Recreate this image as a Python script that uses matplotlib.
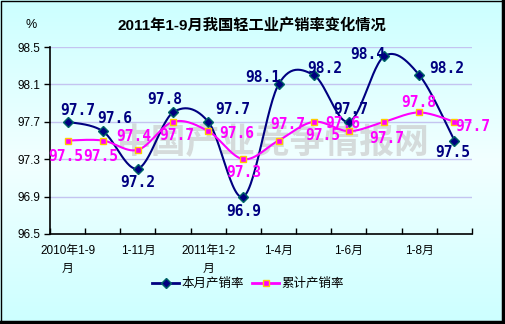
import matplotlib.pyplot as plt
import numpy as np
from matplotlib.colors import LinearSegmentedColormap
from matplotlib.lines import Line2D

plt.rcParams['font.family'] = ['Liberation Sans', 'Noto Sans CJK SC', 'DejaVu Sans']

months = ['2010年1-9\n月', '1-10月', '1-11月', '12月', '2011年1-2\n月', '1-3月',
          '1-4月', '1-5月', '1-6月', '1-7月', '1-8月', '1-9月']
monthly = [97.7, 97.6, 97.2, 97.8, 97.7, 96.9, 98.1, 98.2, 97.7, 98.4, 98.2, 97.5]
cumulative = [97.5, 97.5, 97.4, 97.7, 97.6, 97.3, 97.5, 97.7, 97.6, 97.7, 97.8, 97.7]
yticks = [96.5, 96.9, 97.3, 97.7, 98.1, 98.5]

# label offsets in pixels (dx, dy)
off_monthly = [(10, 11), (12, 13), (0, -14), (-8, 13), (25, 12), (0, -15),
               (-16, 7), (11, 7), (2, 12), (-16, 2), (28, 7), (-2, -12)]
off_cum = [(-2, -16), (-2, -16), (-4, 13), (4, -14), (29, -2), (0, -13),
           (44, 5), (-26, -3), (-6, 8), (3, -17), (0, 10), (18, -5)]


def smooth(y, n=30):
    # bezier smoothing through the points (catmull-rom style)
    y = np.asarray(y, float)
    x = np.arange(len(y), dtype=float)
    p = np.column_stack([x, y])
    pts = []
    t = np.linspace(0, 1, n)[:, None]
    for i in range(len(p) - 1):
        p0 = p[max(i - 1, 0)]
        p3 = p[min(i + 2, len(p) - 1)]
        c1 = p[i] + (p[i + 1] - p0) / 6
        c2 = p[i + 1] - (p3 - p[i]) / 6
        seg = ((1 - t) ** 3) * p[i] + 3 * ((1 - t) ** 2) * t * c1 \
            + 3 * (1 - t) * t ** 2 * c2 + t ** 3 * p[i + 1]
        pts.append(seg)
    pts = np.vstack(pts)
    return pts[:, 0], pts[:, 1]


fig = plt.figure(figsize=(5.05, 3.24), dpi=100)

bg = fig.add_axes([0, 0, 1, 1], zorder=-5)
cmap = LinearSegmentedColormap.from_list('bg', [(0, '#ccffff'), (0.5, '#f2ffff'), (1, '#ccffff')])
bg.imshow(np.linspace(0, 1, 256)[:, None], aspect='auto', cmap=cmap, extent=[0, 1, 0, 1])
bg.axis('off')
bg.set_xlim(0, 1)
bg.set_ylim(0, 1)
# frame
bg.plot([0.001, 0.001, 0.996, 0.996, 0.001], [0.004, 0.998, 0.998, 0.004, 0.004],
        color='black', lw=1, clip_on=False)
bg.plot([0.996, 0.996], [0.998, 0.0], color='black', lw=2.5, clip_on=False)
bg.plot([0.0, 0.996], [0.005, 0.005], color='black', lw=2.5, clip_on=False)

ax = fig.add_axes([50 / 505, 90 / 324, 422 / 505, 187 / 324])
ax.set_facecolor('none')

x = np.arange(len(months))

ax.text(0.53, 0.49, '中国产业竞争情报网', transform=ax.transAxes, ha='center', va='center',
        fontsize=25, fontweight='bold', color='#c8c8c8', alpha=0.65,
        family=['Noto Sans CJK SC'], zorder=1)

sx, sy = smooth(monthly)
ax.plot(sx, sy, color='#000080', lw=1.5, zorder=3)
ax.plot(x, monthly, ls='none', marker='D', ms=5, mfc='#000080', mec='#006666', zorder=4)
sx, sy = smooth(cumulative)
ax.plot(sx, sy, color='#ff00ff', lw=1.5, zorder=3)
ax.plot(x, cumulative, ls='none', marker='s', ms=4.5, mfc='#ff00ff', mec='#ffcc00', mew=1, zorder=4)

for i, v in enumerate(monthly):
    dx, dy = off_monthly[i]
    ax.annotate(f'{v:.1f}', (i, v), xytext=(dx * 0.72, dy * 0.72), textcoords='offset points',
                ha='center', va='center', fontsize=10.5, fontweight='bold', color='#000080',
                family='DejaVu Sans Mono', zorder=5)
for i, v in enumerate(cumulative):
    dx, dy = off_cum[i]
    ax.annotate(f'{v:.1f}', (i, v), xytext=(dx * 0.72, dy * 0.72), textcoords='offset points',
                ha='center', va='center', fontsize=10.5, fontweight='bold', color='#ff00ff',
                family='DejaVu Sans Mono', zorder=5)

ax.set_xlim(-0.5, len(months) - 0.5)
ax.set_ylim(96.5, 98.5)
ax.set_yticks(yticks)
ax.set_yticklabels([f'{t:.1f}' for t in yticks], fontsize=8.5)
for t in yticks[1:]:
    ax.axhline(t, color='#c4c4f0', lw=1, zorder=0)

ax.set_xticks(x)
ax.set_xticklabels([m if i % 2 == 0 else '' for i, m in enumerate(months)], fontsize=8.5,
                   linespacing=1.6)
ax.tick_params(axis='x', length=0, pad=8)
ax.set_xticks(np.arange(-0.5, len(months)), minor=True)
ax.tick_params(axis='x', which='minor', direction='in', length=4, width=1)
ax.tick_params(axis='y', direction='out', length=4, width=1, pad=3)

for s in ['top', 'right']:
    ax.spines[s].set_visible(False)
ax.spines['left'].set_linewidth(1.2)
ax.spines['bottom'].set_linewidth(1.2)

fig.text(252 / 505, 1 - 26 / 324, '2011年1-9月我国轻工业产销率变化情况', ha='center', va='center',
         fontsize=11, fontweight='bold', family=['Liberation Sans', 'Noto Sans CJK SC'])
fig.text(31 / 505, 1 - 25 / 324, '%', ha='center', va='center', fontsize=9)

handles = [Line2D([], [], color='#000080', lw=2, marker='D', ms=5, mfc='#000080', mec='#006666'),
           Line2D([], [], color='#ff00ff', lw=2, marker='s', ms=4.5, mfc='#ff00ff', mec='#ffcc00')]
fig.legend(handles, ['本月产销率', '累计产销率'], loc='center', bbox_to_anchor=(248 / 505, 1 - 284 / 324),
           ncol=2, frameon=False, fontsize=9, handlelength=2.2, handletextpad=0.2, columnspacing=0.6)

fig.savefig('out.png', dpi=100)
